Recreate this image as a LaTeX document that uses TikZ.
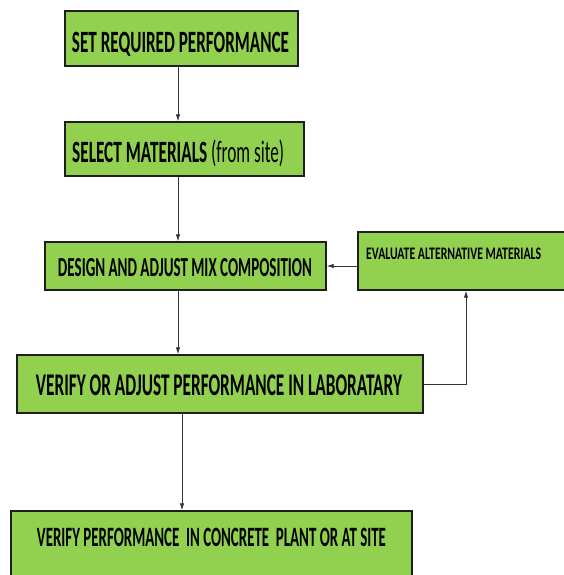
\documentclass[tikz,border=0pt]{standalone}
\usepackage{fontspec}
\usepackage{graphicx}
\setmainfont{Carlito}
\usetikzlibrary{arrows.meta}
\definecolor{boxgreen}{RGB}{146,208,80}
\definecolor{edge}{RGB}{30,30,30}
\newcommand{\fitw}[3]{\resizebox{#1}{\height}{\fontsize{#2}{#2}\selectfont #3}}
\tikzset{
  box/.style={draw=edge, line width=1.4pt, fill=boxgreen, inner sep=0pt},
  txt/.style={inner sep=0pt, anchor=base},
  arr/.style={draw=edge!90, line width=0.8pt, -{Latex[length=7pt,width=4.5pt]}}
}
\begin{document}
\begin{tikzpicture}[x=1pt,y=-1pt]
\clip (0,0) rectangle (564,575);
\fill[white] (0,0) rectangle (564,575);
% boxes
\node[box, minimum width=233pt, minimum height=55pt] (b1) at (181.5,38.5) {};
\node[box, minimum width=239pt, minimum height=54pt] (b2) at (184.5,149) {};
\node[box, minimum width=281pt, minimum height=48pt] (b3) at (185.5,266) {};
\node[box, minimum width=216pt, minimum height=58pt] (ev) at (466,261) {};
\node[box, minimum width=406pt, minimum height=58pt] (b4) at (220,384) {};
\node[box, minimum width=401pt, minimum height=79pt] (b5) at (211.5,550.5) {};
% texts
\node[txt] (t1) at (180.5,52.3) {\fitw{217pt}{31pt}{\bfseries SET REQUIRED PERFORMANCE}};
\node[txt, anchor=base west] (t2) at (72,162.3) {\fitw{212pt}{31pt}{\bfseries SELECT MATERIALS \mdseries(from site)}};
\node[txt] (t3) at (185,276.7) {\fitw{254pt}{27.5pt}{\bfseries DESIGN AND ADJUST MIX COMPOSITION}};
\node[txt, anchor=base west] (te) at (366,259.3) {\fitw{175pt}{17.6pt}{\bfseries EVALUATE ALTERNATIVE MATERIALS}};
\node[txt] (t4) at (219,395) {\fitw{366pt}{31.6pt}{\bfseries VERIFY OR ADJUST PERFORMANCE IN LABORATARY}};
\node[txt] (t5) at (211.5,546) {\fitw{349pt}{28pt}{\bfseries VERIFY PERFORMANCE\ \ IN CONCRETE\ \ PLANT OR AT SITE}};
% connectors
\draw[arr] ([xshift=-3.5pt]b1.south) -- ([xshift=-3.5pt]b1.south |- b2.north);
\draw[arr] ([xshift=-6.5pt]b2.south) -- ([xshift=-6.5pt]b2.south |- b3.north);
\draw[arr] ([xshift=-7.5pt]b3.south) -- ([xshift=-7.5pt]b3.south |- b4.north);
\draw[arr] (ev.west |- b3.east) -- (b3.east);
\draw[arr] (b4.east) -| (ev.south);
\draw[arr] ([xshift=-38pt]b4.south) -- ([xshift=-38pt]b4.south |- b5.north);
\end{tikzpicture}
\end{document}
